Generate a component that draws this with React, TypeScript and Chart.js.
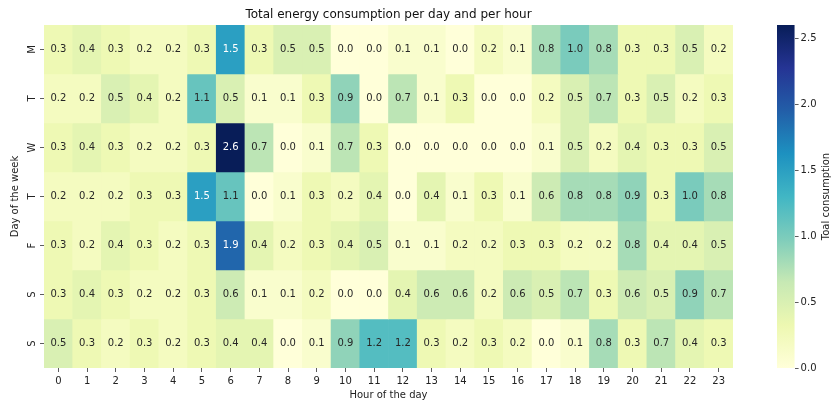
import React, { useEffect, useRef } from 'react';
import { Chart, registerables } from 'chart.js';

Chart.register(...registerables);

const days = ['M', 'T', 'W', 'T', 'F', 'S', 'S'];
const hours = ['0','1','2','3','4','5','6','7','8','9','10','11','12','13','14','15','16','17','18','19','20','21','22','23'];

const mon = [0.3, 0.4, 0.3, 0.2, 0.2, 0.3, 1.5, 0.3, 0.5, 0.5, 0.0, 0.0, 0.1, 0.1, 0.0, 0.2, 0.1, 0.8, 1.0, 0.8, 0.3, 0.3, 0.5, 0.2];
const tue = [0.2, 0.2, 0.5, 0.4, 0.2, 1.1, 0.5, 0.1, 0.1, 0.3, 0.9, 0.0, 0.7, 0.1, 0.3, 0.0, 0.0, 0.2, 0.5, 0.7, 0.3, 0.5, 0.2, 0.3];
const wed = [0.3, 0.4, 0.3, 0.2, 0.2, 0.3, 2.6, 0.7, 0.0, 0.1, 0.7, 0.3, 0.0, 0.0, 0.0, 0.0, 0.0, 0.1, 0.5, 0.2, 0.4, 0.3, 0.3, 0.5];
const thu = [0.2, 0.2, 0.2, 0.3, 0.3, 1.5, 1.1, 0.0, 0.1, 0.3, 0.2, 0.4, 0.0, 0.4, 0.1, 0.3, 0.1, 0.6, 0.8, 0.8, 0.9, 0.3, 1.0, 0.8];
const fri = [0.3, 0.2, 0.4, 0.3, 0.2, 0.3, 1.9, 0.4, 0.2, 0.3, 0.4, 0.5, 0.1, 0.1, 0.2, 0.2, 0.3, 0.3, 0.2, 0.2, 0.8, 0.4, 0.4, 0.5];
const sat = [0.3, 0.4, 0.3, 0.2, 0.2, 0.3, 0.6, 0.1, 0.1, 0.2, 0.0, 0.0, 0.4, 0.6, 0.6, 0.2, 0.6, 0.5, 0.7, 0.3, 0.6, 0.5, 0.9, 0.7];
const sun = [0.5, 0.3, 0.2, 0.3, 0.2, 0.3, 0.4, 0.4, 0.0, 0.1, 0.9, 1.2, 1.2, 0.3, 0.2, 0.3, 0.2, 0.0, 0.1, 0.8, 0.3, 0.7, 0.4, 0.3];

const rows = [mon, tue, wed, thu, fri, sat, sun];
const vmin = 0;
const vmax = 2.6;

const TITLE = 'Total energy consumption per day and per hour';
const X_TITLE = 'Hour of the day';
const Y_TITLE = 'Day of the week';
const CB_TITLE = 'Toal consumption';

const YLGNBU = ['#ffffd9', '#edf8b1', '#c7e9b4', '#7fcdbb', '#41b6c4', '#1d91c0', '#225ea8', '#253494', '#081d58'];

function hexToRgb(h: string): number[] {
  return [parseInt(h.slice(1, 3), 16), parseInt(h.slice(3, 5), 16), parseInt(h.slice(5, 7), 16)];
}
const STOPS = YLGNBU.map(hexToRgb);

function cmapRgb(t: number): number[] {
  const tt = Math.max(0, Math.min(1, t));
  const p = tt * (STOPS.length - 1);
  const i = Math.min(STOPS.length - 2, Math.floor(p));
  const f = p - i;
  const a = STOPS[i];
  const b = STOPS[i + 1];
  return [0, 1, 2].map((k) => a[k] + (b[k] - a[k]) * f);
}
function cmap(v: number): string {
  const c = cmapRgb((v - vmin) / (vmax - vmin));
  return `rgb(${Math.round(c[0])},${Math.round(c[1])},${Math.round(c[2])})`;
}
function textColorFor(v: number): string {
  const c = cmapRgb((v - vmin) / (vmax - vmin)).map((x) => x / 255);
  const lin = c.map((x) => (x <= 0.03928 ? x / 12.92 : Math.pow((x + 0.055) / 1.055, 2.4)));
  const lum = 0.2126 * lin[0] + 0.7152 * lin[1] + 0.0722 * lin[2];
  return lum > 0.408 ? '#262626' : '#ffffff';
}

Chart.defaults.font.family = "'DejaVu Sans', sans-serif";
Chart.defaults.font.size = 10;
Chart.defaults.color = '#222';

const cellLabels = {
  id: 'cellLabels',
  afterDatasetsDraw(chart: any) {
    const ctx = chart.ctx;
    ctx.save();
    ctx.font = "10px 'DejaVu Sans', sans-serif";
    ctx.textAlign = 'center';
    ctx.textBaseline = 'middle';
    rows.forEach((vals, r) => {
      const meta = chart.getDatasetMeta(r);
      meta.data.forEach((el: any, c: number) => {
        const p = el.getCenterPoint();
        ctx.fillStyle = textColorFor(vals[c]);
        ctx.fillText(vals[c].toFixed(1), p.x, p.y);
      });
    });
    ctx.restore();
  },
};

const cbTitle = {
  id: 'cbTitle',
  afterDraw(chart: any) {
    const ctx = chart.ctx;
    const s = chart.scales.y;
    ctx.save();
    ctx.font = "10px 'DejaVu Sans', sans-serif";
    ctx.fillStyle = '#222';
    ctx.textAlign = 'center';
    ctx.textBaseline = 'middle';
    ctx.translate(s.right - 7, (s.top + s.bottom) / 2);
    ctx.rotate(-Math.PI / 2);
    ctx.fillText(CB_TITLE, 0, 0);
    ctx.restore();
  },
};

export default function App() {
  const mainRef = useRef<HTMLCanvasElement>(null);
  const cbRef = useRef<HTMLCanvasElement>(null);

  useEffect(() => {
    const datasets = rows.map((vals, r) => ({
      label: days[r],
      data: vals.map(() => [r - 0.5, r + 0.5]),
      backgroundColor: vals.map((v) => cmap(v)),
      borderWidth: 0,
      barPercentage: 1,
      categoryPercentage: 1,
      grouped: false,
    }));

    const main = new Chart(mainRef.current as HTMLCanvasElement, {
      type: 'bar',
      data: { labels: hours, datasets: datasets as any },
      plugins: [cellLabels],
      options: {
        animation: false,
        responsive: false,
        devicePixelRatio: 1,
        events: [],
        layout: { padding: { left: 0, right: 100, top: 0, bottom: 0 } },
        plugins: {
          legend: { display: false },
          tooltip: { enabled: false },
          title: {
            display: true,
            text: TITLE,
            fullSize: false,
            color: '#111',
            font: { size: 12, weight: 'normal' },
            padding: { top: 7.6, bottom: 3 },
          },
        },
        scales: {
          x: {
            type: 'category',
            offset: true,
            grid: { display: true, offset: false, drawOnChartArea: false, drawTicks: true, tickLength: 4, color: '#333', lineWidth: 0.8 },
            border: { display: false },
            ticks: { padding: 3, maxRotation: 0, autoSkip: false, color: '#222', font: { size: 10 } },
            title: { display: true, text: X_TITLE, color: '#222', font: { size: 10 }, padding: { top: 2, bottom: 5 } },
            afterFit: (s: any) => { s.height = 38; },
          },
          y: {
            type: 'linear',
            min: -0.5,
            max: 6.5,
            reverse: true,
            afterBuildTicks: (s: any) => { s.ticks = days.map((_, i) => ({ value: i })); },
            grid: { display: true, drawOnChartArea: false, drawTicks: true, tickLength: 4, color: '#333', lineWidth: 0.8 },
            border: { display: false },
            ticks: {
              minRotation: 90,
              maxRotation: 90,
              crossAlign: 'center',
              padding: 3,
              color: '#222',
              font: { size: 10 },
              callback: (v: any) => days[Math.round(Number(v))] ?? '',
            },
            title: { display: true, text: Y_TITLE, color: '#222', font: { size: 10 }, padding: { top: 9, bottom: 0 } },
            afterFit: (s: any) => { s.width = 44; },
          },
        },
      } as any,
    });

    const cb = new Chart(cbRef.current as HTMLCanvasElement, {
      type: 'bar',
      data: {
        labels: [''],
        datasets: [{
          data: [[vmin, vmax]] as any,
          backgroundColor: (c: any) => {
            const { ctx, chartArea, scales } = c.chart;
            if (!chartArea) return 'transparent';
            const y0 = scales.y.getPixelForValue(vmin);
            const y1 = scales.y.getPixelForValue(vmax);
            const g = ctx.createLinearGradient(0, y0, 0, y1);
            YLGNBU.forEach((col, i) => g.addColorStop(i / (YLGNBU.length - 1), col));
            return g;
          },
          borderWidth: 0,
          barPercentage: 1,
          categoryPercentage: 1,
        }],
      },
      plugins: [cbTitle],
      options: {
        animation: false,
        responsive: false,
        devicePixelRatio: 1,
        events: [],
        layout: { padding: { left: 17, right: 0, top: 25, bottom: 38 } },
        plugins: { legend: { display: false }, tooltip: { enabled: false } },
        scales: {
          x: { display: false, offset: true },
          y: {
            type: 'linear',
            position: 'right',
            min: vmin,
            max: vmax,
            grid: { display: true, drawOnChartArea: false, drawTicks: true, tickLength: 4, color: '#333', lineWidth: 0.8 },
            border: { display: false },
            ticks: { stepSize: 0.5, includeBounds: false, padding: 2, color: '#222', font: { size: 10 }, callback: (v: any) => Number(v).toFixed(1) },
            afterFit: (s: any) => { s.width = 38.4; },
          },
        },
      } as any,
    });

    return () => {
      main.destroy();
      cb.destroy();
    };
  }, []);

  return (
    <div style={{ position: 'fixed', left: 0, top: 0, width: 833, height: 406, background: '#fff' }}>
      <canvas ref={mainRef} width={833} height={406} style={{ position: 'absolute', left: 0, top: 0, width: 833, height: 406 }} />
      <canvas ref={cbRef} width={73} height={406} style={{ position: 'absolute', left: 760, top: 0, width: 73, height: 406 }} />
    </div>
  );
}
